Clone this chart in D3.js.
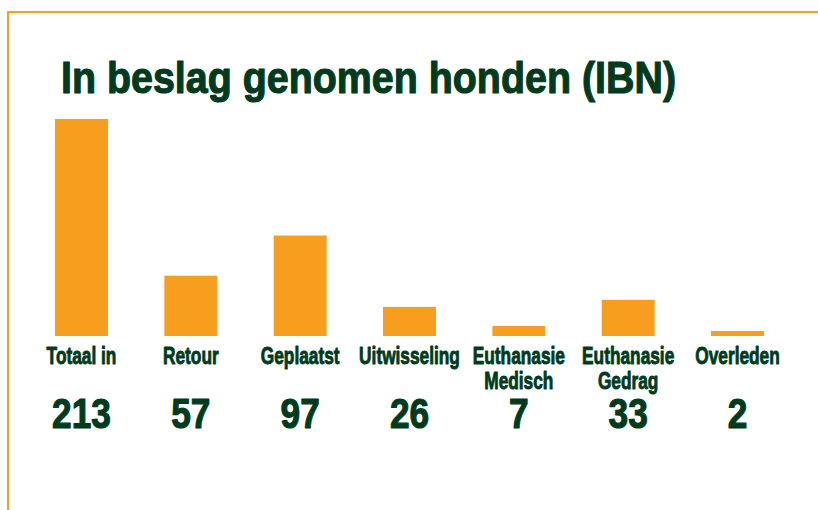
<!DOCTYPE html>
<html>
<head>
<meta charset="utf-8">
<script src="https://cdn.jsdelivr.net/npm/d3@7"></script>
<style>
  body { margin: 0; background: #fff; }
  text { font-family: "Liberation Sans", Arial, sans-serif; font-weight: 700; fill: #003b1d; stroke: #003b1d; stroke-linejoin: round; }
</style>
</head>
<body>
<div id="chart"></div>
<script>
const categories = ["Totaal in", "Retour", "Geplaatst", "Uitwisseling", "Euthanasie Medisch", "Euthanasie Gedrag", "Overleden"];
const labelLines = [["Totaal in"], ["Retour"], ["Geplaatst"], ["Uitwisseling"], ["Euthanasie", "Medisch"], ["Euthanasie", "Gedrag"], ["Overleden"]];
const values = [213, 57, 97, 26, 7, 33, 2];
const title = "In beslag genomen honden (IBN)";

const width = 818, height = 510;
const orange = "#f89e1f";

const svg = d3.select("#chart")
  .append("svg")
  .attr("width", width)
  .attr("height", height);

// Frame lines (top and left)
svg.append("path")
  .attr("d", `M8,${height} L8,12 L${width},12`)
  .attr("fill", "none")
  .attr("stroke", orange)
  .attr("stroke-width", 2);

svg.append("text")
  .attr("x", 61)
  .attr("y", 93)
  .attr("font-size", 45)
  .attr("stroke-width", 1.2)
  .attr("textLength", 615)
  .attr("lengthAdjust", "spacingAndGlyphs")
  .text(title);

const x = d3.scaleBand()
  .domain(categories)
  .range([55, 764])
  .paddingInner(0.5155)
  .paddingOuter(0);

// small offset so tiny values stay visible, as in the original
const y = d3.scaleLinear()
  .domain([-3, 213])
  .range([336, 119]);

const cx = (i) => x(categories[i]) + x.bandwidth() / 2;

svg.append("g")
  .selectAll("rect")
  .data(values)
  .join("rect")
  .attr("x", (d, i) => x(categories[i]))
  .attr("width", x.bandwidth())
  .attr("y", (d) => y(d))
  .attr("height", (d) => y(-3) - y(d))
  .attr("fill", orange);

// condensed look: squeeze text horizontally
const labels = svg.append("g")
  .selectAll("text")
  .data(labelLines)
  .join("text")
  .attr("text-anchor", "middle")
  .attr("font-size", 24)
  .attr("stroke-width", 0.9)
  .attr("transform", (d, i) => `translate(${cx(i)},364) scale(0.72,1)`);

labels.selectAll("tspan")
  .data((d) => d)
  .join("tspan")
  .attr("x", 0)
  .attr("dy", (d, j) => (j === 0 ? 0 : 25))
  .text((d) => d);

svg.append("g")
  .selectAll("text")
  .data(values)
  .join("text")
  .attr("text-anchor", "middle")
  .attr("font-size", 42)
  .attr("stroke-width", 1.2)
  .attr("transform", (d, i) => `translate(${cx(i)},428) scale(0.84,1)`)
  .text((d) => d);
</script>
</body>
</html>
